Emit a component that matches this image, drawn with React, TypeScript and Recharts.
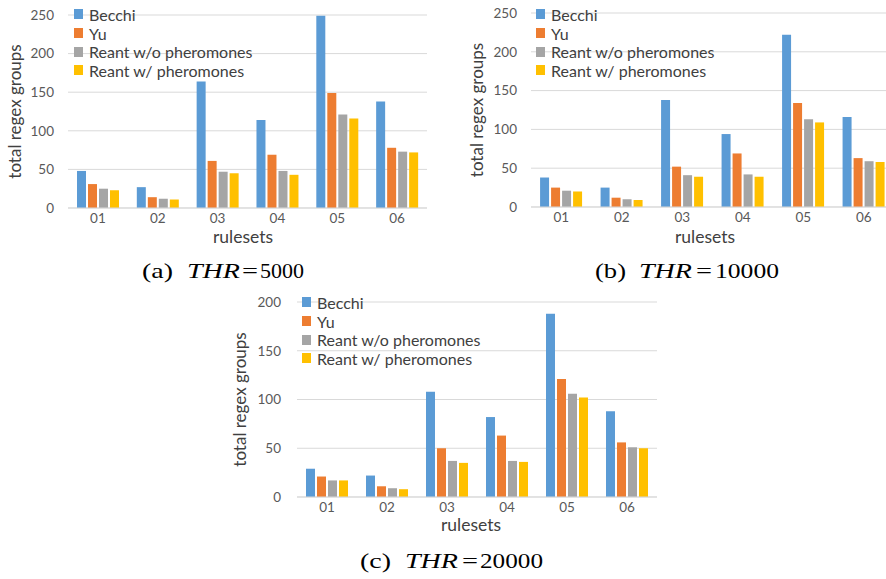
import { BarChart, Bar, XAxis, YAxis, CartesianGrid, Legend, Label } from 'recharts';

const rulesets = ['01', '02', '03', '04', '05', '06'];
const seriesNames = ['Becchi', 'Yu', 'Reant w/o pheromones', 'Reant w/ pheromones'];
const seriesColors = ['#5B9BD5', '#ED7D31', '#A5A5A5', '#FFC000'];
const seriesKeys = ['becchi', 'yu', 'reantNoPh', 'reantPh'];

// THR = 5000
const becchi5000 = [48, 27, 164, 114, 249, 138];
const yu5000 = [31, 14, 61, 69, 149, 78];
const reantNoPh5000 = [25, 12, 47, 48, 121, 73];
const reantPh5000 = [23, 11, 45, 43, 116, 72];

// THR = 10000
const becchi10000 = [38, 25, 138, 94, 222, 116];
const yu10000 = [25, 12, 52, 69, 134, 63];
const reantNoPh10000 = [21, 10, 41, 42, 113, 59];
const reantPh10000 = [20, 9, 39, 39, 109, 58];

// THR = 20000
const becchi20000 = [29, 22, 108, 82, 188, 88];
const yu20000 = [21, 11, 50, 63, 121, 56];
const reantNoPh20000 = [17, 9, 37, 37, 106, 51];
const reantPh20000 = [17, 8, 35, 36, 102, 50];

const ticks250 = [0, 50, 100, 150, 200, 250];
const ticks200 = [0, 50, 100, 150, 200];

const buildRows = (b: number[], y: number[], n: number[], p: number[]) =>
  rulesets.map((r, i) => ({ ruleset: r, becchi: b[i], yu: y[i], reantNoPh: n[i], reantPh: p[i] }));

const data5000 = buildRows(becchi5000, yu5000, reantNoPh5000, reantPh5000);
const data10000 = buildRows(becchi10000, yu10000, reantNoPh10000, reantPh10000);
const data20000 = buildRows(becchi20000, yu20000, reantNoPh20000, reantPh20000);

const FONT = 'Lato, "Open Sans", sans-serif';
const SERIF = '"Liberation Serif", serif';

// legend keeps the series order (the library would sort by name)
const renderLegend = () => (
  <div style={{ fontFamily: FONT, fontSize: 16, color: '#404040' }}>
    {seriesNames.map((name, i) => (
      <div key={name} style={{ display: 'flex', alignItems: 'center', height: 18.7, whiteSpace: 'nowrap' }}>
        <span style={{ display: 'inline-block', width: 9, height: 10, background: seriesColors[i], marginRight: 6 }} />
        {name}
      </div>
    ))}
  </div>
);

interface PanelProps {
  data: any[];
  ticks: number[];
  left: number;
  top: number;
  width: number;
  height: number;
  marginTop: number;
  marginRight: number;
  yAxisWidth: number;
  yTitleX: number;
  yTickGap: number;
}

function Panel({ data, ticks, left, top, width, height, marginTop, marginRight, yAxisWidth, yTitleX, yTickGap }: PanelProps) {
  const max = ticks[ticks.length - 1];
  const midY = marginTop + (height - marginTop - 42) / 2;
  return (
    <div style={{ position: 'absolute', left, top, width, height }}>
      <BarChart
        width={width}
        height={height}
        data={data}
        margin={{ top: marginTop, right: marginRight, bottom: 0, left: 0 }}
        barCategoryGap="15%"
        barGap={2}
      >
        <CartesianGrid vertical={false} stroke="#D9D9D9" />
        <XAxis
          dataKey="ruleset"
          interval={0}
          height={42}
          tickLine={false}
          axisLine={{ stroke: '#D9D9D9' }}
          tickSize={4}
          tickMargin={1}
          tick={{ fill: '#595959', fontSize: 13.5, fontFamily: FONT }}
        >
          <Label
            content={() => (
              <text x={243} y={243} textAnchor="middle" fill="#404040" fontSize={17.5} fontFamily={FONT}>
                rulesets
              </text>
            )}
          />
        </XAxis>
        <YAxis
          width={yAxisWidth}
          domain={[0, max]}
          ticks={ticks}
          tickLine={false}
          axisLine={false}
          tickSize={6}
          tickMargin={yTickGap - 6}
          tick={{ fill: '#595959', fontSize: 13.5, fontFamily: FONT }}
        >
          <Label
            content={() => (
              <text
                x={yTitleX}
                y={midY}
                transform={`rotate(-90 ${yTitleX} ${midY})`}
                textAnchor="middle"
                fill="#404040"
                fontSize={17}
                fontFamily={FONT}
              >
                total regex groups
              </text>
            )}
          />
        </YAxis>
        <Legend
          layout="vertical"
          align="center"
          verticalAlign="middle"
          content={renderLegend}
          wrapperStyle={{ left: 74, top: 5, width: 'auto' }}
        />
        {seriesKeys.map((k, i) => (
          <Bar key={k} dataKey={k} name={seriesNames[i]} fill={seriesColors[i]} isAnimationActive={false} />
        ))}
      </BarChart>
    </div>
  );
}

interface CaptionProps {
  tag: string;
  value: string;
  x: number;
  thrX: number;
  eqX: number;
  numX: number;
  numW: number;
  y: number;
}

function Caption({ tag, value, x, thrX, eqX, numX, numW, y }: CaptionProps) {
  return (
    <g fontFamily={SERIF} fontSize={22} fill="#000">
      <text x={x} y={y} textLength={31} lengthAdjust="spacingAndGlyphs">{tag}</text>
      <text x={thrX} y={y} fontStyle="italic" textLength={53} lengthAdjust="spacingAndGlyphs">THR</text>
      <text x={eqX} y={y} textLength={16} lengthAdjust="spacingAndGlyphs">=</text>
      <text x={numX} y={y} textLength={numW} lengthAdjust="spacingAndGlyphs">{value}</text>
    </g>
  );
}

export default function App() {
  return (
    <div style={{ position: 'absolute', left: 0, top: 0, width: 886, height: 579, overflow: 'hidden', background: '#fff' }}>
      <Panel data={data5000} ticks={ticks250} left={0} top={0} width={440} height={250} marginTop={15} marginRight={13} yAxisWidth={68} yTitleX={21} yTickGap={14} />
      <Panel data={data10000} ticks={ticks250} left={462} top={0} width={432} height={249} marginTop={13} marginRight={0} yAxisWidth={69} yTitleX={21} yTickGap={14} />
      <Panel data={data20000} ticks={ticks200} left={228} top={288} width={429} height={251} marginTop={14} marginRight={0} yAxisWidth={69} yTitleX={18} yTickGap={16} />
      <svg width={886} height={579} style={{ position: 'absolute', left: 0, top: 0, pointerEvents: 'none' }}>
        <Caption tag="(a)" value="5000" x={142} thrX={187} eqX={242} numX={260} numW={44} y={278} />
        <Caption tag="(b)" value="10000" x={595} thrX={639} eqX={696} numX={715} numW={64} y={278} />
        <Caption tag="(c)" value="20000" x={360} thrX={405} eqX={462} numX={480} numW={63} y={568} />
      </svg>
    </div>
  );
}
